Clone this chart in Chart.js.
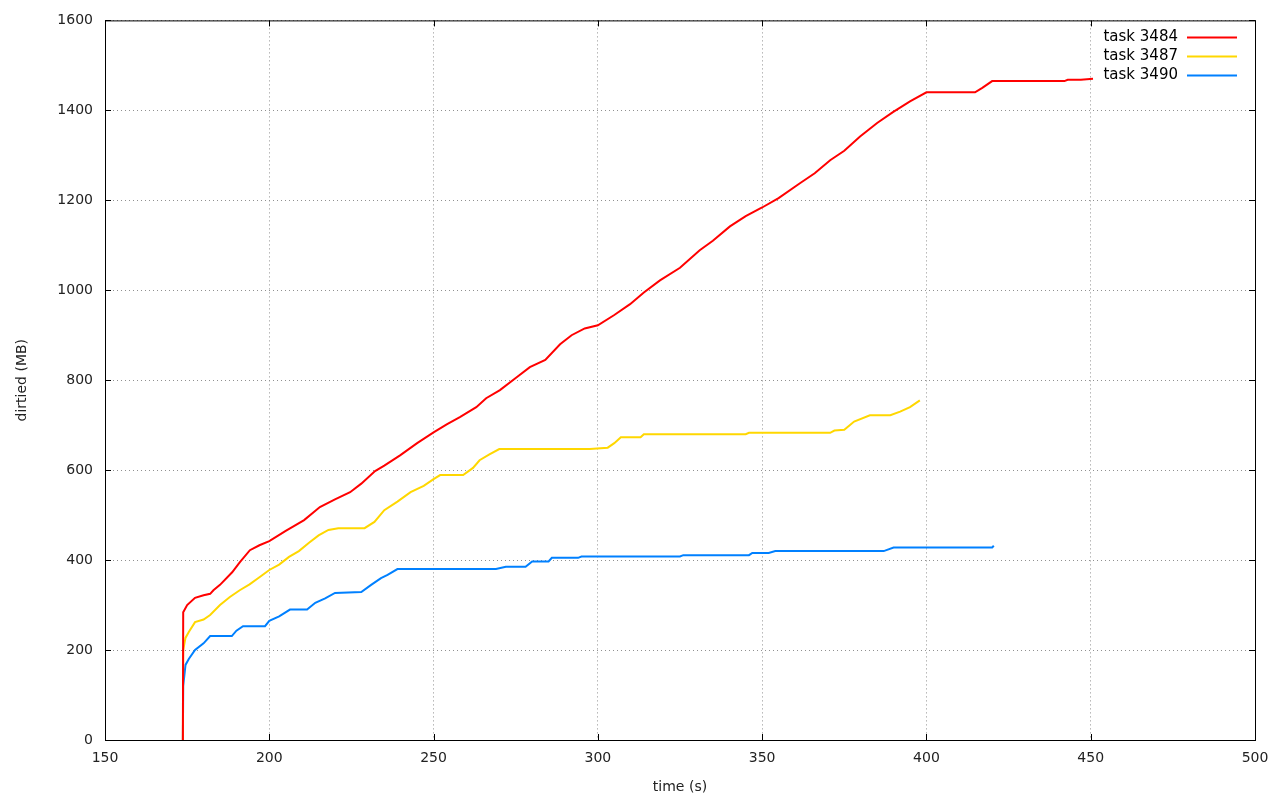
<!DOCTYPE html>
<html>
<head>
<meta charset="utf-8">
<script src="https://cdn.jsdelivr.net/npm/chart.js@4"></script>
<style>
  html, body { margin: 0; padding: 0; background: #fff; }
  #wrap { width: 1280px; height: 800px; }
</style>
</head>
<body>
<div id="wrap"><canvas id="dirtyChart" width="1280" height="800"></canvas></div>
<script>
// series names
const seriesLabels = ['task 3484', 'task 3487', 'task 3490'];
const seriesColors = ['#ff0000', '#ffd700', '#0080ff'];

// task 3484 (red)
const redTimes  = [173.7, 173.8, 175, 177.4, 180, 182, 183, 185, 188.7, 191, 194.1, 197, 200, 205, 210.6, 215.4, 220, 224.6, 228, 232.2, 235, 239.8, 245, 250, 254, 258, 263, 266, 270.2, 275, 279.3, 284, 288.5, 292, 296, 300, 305, 309.8, 314, 318.9, 325, 331, 335, 340.2, 345, 350, 355, 361.5, 366, 370.7, 375, 379.8, 385, 389.8, 395, 400, 405, 410, 414.8, 417, 420, 425, 430, 435, 442, 443, 447, 450.7];
const redValues = [0, 284, 300, 316, 322, 325, 333, 345, 373, 395, 422, 433, 442, 465, 489, 518, 535, 551, 570, 598, 610, 633, 660, 684, 702, 718, 740, 760, 778, 805, 829, 845, 880, 900, 915, 922, 945, 969, 995, 1022, 1050, 1089, 1110, 1142, 1165, 1184, 1205, 1238, 1260, 1289, 1310, 1342, 1372, 1396, 1420, 1440, 1440, 1440, 1440, 1450, 1465, 1465, 1465, 1465, 1465, 1468, 1468, 1470];

// task 3487 (yellow)
const yellowTimes  = [173.7, 173.8, 174.5, 175.5, 177.4, 180, 182, 185, 188, 191, 194, 197, 200, 203, 206, 209, 212, 215, 218, 221, 225, 229, 232, 235, 239, 243, 247, 250, 252, 259, 262, 264, 267, 270, 280, 290, 297.6, 303, 305, 307, 313, 314, 330, 345, 346, 360, 370.7, 372, 375, 378, 382.8, 389, 392, 395, 398];
const yellowValues = [0, 200, 227, 240, 262, 268, 278, 300, 318, 333, 346, 362, 378, 390, 407, 420, 438, 455, 467, 471, 471, 471, 485, 511, 530, 551, 565, 580, 589, 589, 605, 622, 635, 647, 647, 647, 647, 650, 660, 673, 673, 680, 680, 680, 683, 683, 683, 688, 690, 708, 722, 722, 730, 740, 755];

// task 3490 (blue)
const blueTimes  = [173.7, 173.8, 174.5, 175.5, 177.4, 180, 182, 188.6, 190, 192, 198.7, 200, 203, 206.3, 211.5, 214, 217, 220, 228, 231, 234, 236, 239, 264, 269, 272, 278, 280, 285, 286, 294, 295, 325, 326, 346, 347, 352, 354, 387, 390, 420, 420.5];
const blueValues = [0, 120, 167, 180, 200, 215, 231, 231, 243, 253, 253, 265, 275, 290, 290, 305, 315, 327, 329, 345, 360, 367, 380, 380, 380, 385, 385, 397, 397, 405, 405, 408, 408, 411, 411, 416, 416, 420, 420, 428, 428, 432];

// axis ticks
const xTickValues = [150, 200, 250, 300, 350, 400, 450, 500];
const yTickValues = [0, 200, 400, 600, 800, 1000, 1200, 1400, 1600];

function toPoints(times, values) {
    return times.map((t, i) => ({ x: t, y: values[i] }));
}

const FONT = '"DejaVu Sans", sans-serif';

// black frame, inward tick marks and gnuplot-style legend
const frameAndLegend = {
    id: 'frameAndLegend',
    afterDraw(chart) {
        const { ctx, chartArea: a, scales } = chart;
        ctx.save();
        ctx.strokeStyle = '#000';
        ctx.lineWidth = 1;
        ctx.beginPath();
        xTickValues.forEach(v => {
            const px = Math.round(scales.x.getPixelForValue(v)) + 0.5;
            ctx.moveTo(px, a.bottom); ctx.lineTo(px, a.bottom - 6);
            ctx.moveTo(px, a.top); ctx.lineTo(px, a.top + 6);
        });
        yTickValues.forEach(v => {
            const py = Math.round(scales.y.getPixelForValue(v)) + 0.5;
            ctx.moveTo(a.left, py); ctx.lineTo(a.left + 6, py);
            ctx.moveTo(a.right, py); ctx.lineTo(a.right - 6, py);
        });
        ctx.stroke();
        ctx.strokeRect(a.left + 0.5, a.top + 0.5, a.right - a.left, a.bottom - a.top);

        // legend: text then sample line
        ctx.font = '15px ' + FONT;
        ctx.textAlign = 'right';
        ctx.textBaseline = 'middle';
        chart.data.datasets.forEach((ds, i) => {
            const y = a.top + 17 + i * 19;
            ctx.fillStyle = '#000';
            ctx.fillText(ds.label, a.right - 77, y);
            ctx.strokeStyle = ds.borderColor;
            ctx.lineWidth = 2;
            ctx.beginPath();
            ctx.moveTo(a.right - 68, y); ctx.lineTo(a.right - 18, y);
            ctx.stroke();
        });
        ctx.restore();
    }
};

document.addEventListener('DOMContentLoaded', function () {
    const ctx = document.getElementById('dirtyChart');
    const series = [
        toPoints(redTimes, redValues),
        toPoints(yellowTimes, yellowValues),
        toPoints(blueTimes, blueValues)
    ];
    new Chart(ctx, {
        type: 'line',
        data: {
            datasets: series.map((pts, i) => ({
                label: seriesLabels[i],
                data: pts,
                borderColor: seriesColors[i],
                backgroundColor: seriesColors[i],
                borderWidth: 2,
                pointRadius: 0,
                tension: 0,
                fill: false
            }))
        },
        plugins: [frameAndLegend],
        options: {
            responsive: false,
            animation: false,
            layout: { padding: { left: 10, right: 25, top: 20, bottom: 0 } },
            plugins: {
                legend: { display: false },
                tooltip: { enabled: false }
            },
            scales: {
                x: {
                    type: 'linear',
                    min: 150,
                    max: 500,
                    afterBuildTicks: axis => { axis.ticks = xTickValues.map(v => ({ value: v })); },
                    afterFit: axis => { axis.height = 60; },
                    border: { display: false, dash: [1, 3] },
                    grid: { color: '#909090', drawTicks: false },
                    ticks: { color: '#222', padding: 10, font: { family: FONT, size: 14 }, callback: v => String(v) },
                    title: { display: true, text: 'time (s)', color: '#222', padding: { top: 8 }, font: { family: FONT, size: 14 } }
                },
                y: {
                    min: 0,
                    max: 1600,
                    afterBuildTicks: axis => { axis.ticks = yTickValues.map(v => ({ value: v })); },
                    afterFit: axis => { axis.width = 95; },
                    border: { display: false, dash: [1, 3] },
                    grid: { color: '#909090', drawTicks: false },
                    ticks: { color: '#222', padding: 12, font: { family: FONT, size: 14 }, callback: v => String(v) },
                    title: { display: true, text: 'dirtied (MB)', color: '#222', padding: { bottom: 12 }, font: { family: FONT, size: 14 } }
                }
            }
        }
    });
});
</script>
</body>
</html>
